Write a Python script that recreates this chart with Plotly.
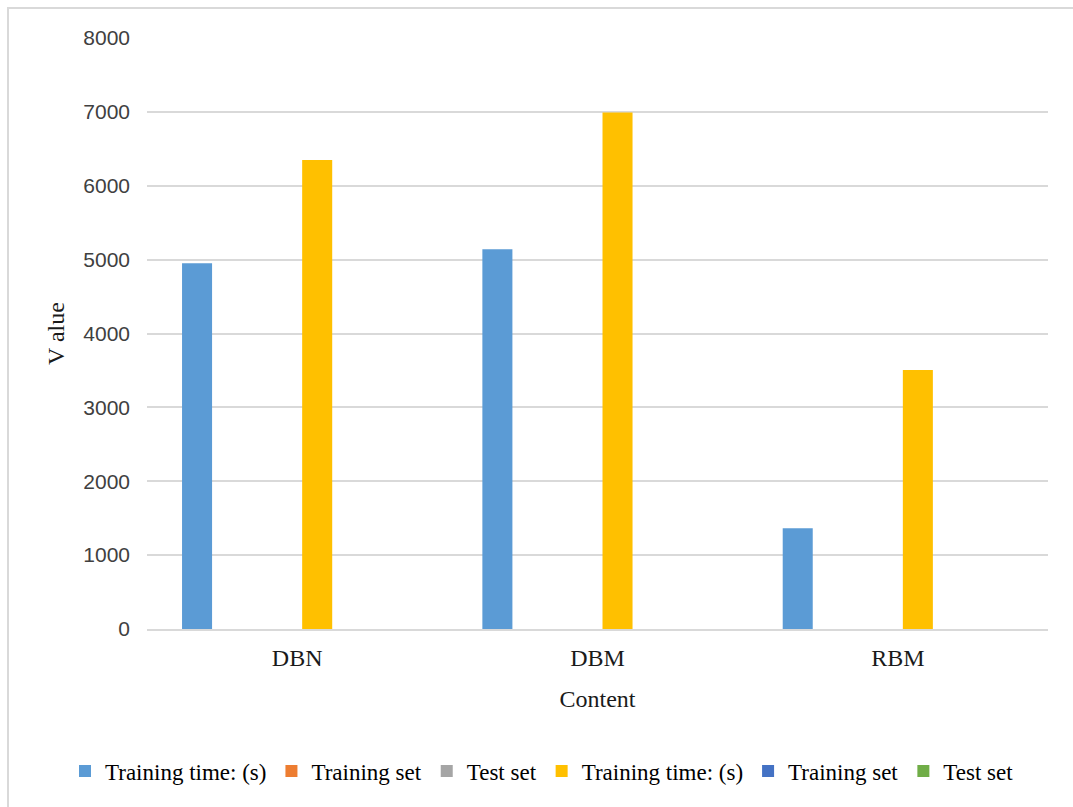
import plotly.graph_objects as go

categories = ["DBN", "DBM", "RBM"]
series_names = ["Training time: (s)", "Training set", "Test set",
                "Training time: (s)", "Training set", "Test set"]
s1_training_time = [4950, 5140, 1365]
s2_training_set = [None, None, None]
s3_test_set = [None, None, None]
s4_training_time = [6350, 6990, 3505]
s5_training_set = [None, None, None]
s6_test_set = [None, None, None]
y_ticks = [0, 1000, 2000, 3000, 4000, 5000, 6000, 7000, 8000]

colors = ["#5B9BD5", "#ED7D31", "#A5A5A5", "#FFC000", "#4472C4", "#70AD47"]
all_series = [s1_training_time, s2_training_set, s3_test_set,
              s4_training_time, s5_training_set, s6_test_set]

W, H = 1073, 807
L, R, T, B = 147, 25, 38, 178
pw, ph = W - L - R, H - T - B

fig = go.Figure()
for name, vals, col in zip(series_names, all_series, colors):
    fig.add_trace(go.Bar(x=categories, y=vals, name=name,
                         marker=dict(color=col, line=dict(width=0))))

serif = "Liberation Serif, Times New Roman, serif"
sans = "Liberation Sans, Arial, sans-serif"


def px_x(p):
    return (p - L) / pw


def px_y(p):
    return 1 - (p - T) / ph


# outer chart frame
fig.add_shape(type="rect", xref="paper", yref="paper",
              x0=px_x(8), x1=px_x(1080), y0=px_y(815), y1=px_y(8),
              line=dict(color="#d9d9d9", width=2), fillcolor="rgba(0,0,0,0)",
              layer="below")

fig.update_layout(
    width=W, height=H,
    margin=dict(l=L, r=R, t=T, b=B, autoexpand=False),
    paper_bgcolor="white", plot_bgcolor="white",
    barmode="group", bargap=0.2, bargroupgap=0.25,
    showlegend=True,
    legend=dict(orientation="h", xref="paper", yref="paper",
                x=px_x(65), xanchor="left", y=px_y(771), yanchor="middle",
                font=dict(family=serif, size=23, color="#000000"),
                itemclick=False, traceorder="normal", itemwidth=30),
    xaxis=dict(
        tickfont=dict(family=serif, size=24, color="#1a1a1a"),
        showline=True, linecolor="#d9d9d9", linewidth=2,
        ticks="", ticklabelstandoff=6,
        title=dict(text="Content", font=dict(family=serif, size=24, color="#1a1a1a"),
                   standoff=20),
        showgrid=False,
    ),
    yaxis=dict(
        range=[0, 8000], tickvals=y_ticks,
        tickfont=dict(family=sans, size=21, color="#404040"),
        showgrid=True, gridcolor="#d9d9d9", gridwidth=1.5,
        zeroline=False, showline=False, ticks="",
        ticklabelstandoff=16,
        title=dict(text="V alue", font=dict(family=serif, size=24, color="#1a1a1a"),
                   standoff=11),
    ),
)

fig.write_html("out.html")
